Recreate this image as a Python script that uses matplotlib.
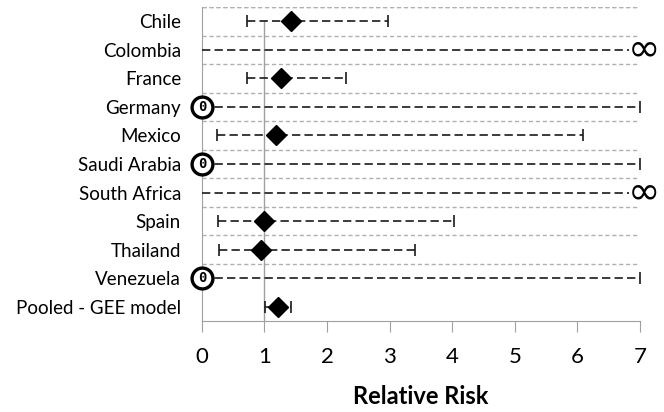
import numpy as np
import matplotlib.pyplot as plt

# forest plot of relative risk by country
countries = ['Chile', 'Colombia', 'France', 'Germany', 'Mexico', 'Saudi Arabia',
             'South Africa', 'Spain', 'Thailand', 'Venezuela', 'Pooled - GEE model']
rr = [1.42, np.inf, 1.26, 0, 1.18, 0, np.inf, 1.00, 0.94, 0, 1.21]
lower = [0.72, 0, 0.72, 0, 0.24, 0, 0, 0.26, 0.27, 0, 1.01]
upper = [2.97, np.inf, 2.30, 7, 6.09, 7, np.inf, 4.03, 3.40, 7, 1.42]
xticks = [0, 1, 2, 3, 4, 5, 6, 7]

plt.rcParams['font.family'] = ['Lato', 'DejaVu Sans']

fig = plt.figure(figsize=(6.64, 4.12), dpi=100)
ax = fig.add_axes([0.304, 0.221, 0.66, 0.762])

n = len(countries)
ypos = np.arange(n)[::-1]
xmax = 7

# row separators
for k in range(n - 1):
    ax.axhline(ypos[k] + 0.5, color='#b0b0b0', lw=1, ls=(0, (3, 2)), zorder=1)

# reference line at RR = 1
ax.plot([1, 1], [-0.5, ypos[0]], color='#a0a0a0', lw=1, zorder=2)

for y, p, lo, hi in zip(ypos, rr, lower, upper):
    hi_draw = 6.82 if np.isinf(hi) else hi
    ax.plot([lo, hi_draw], [y, y], color='#1a1a1a', lw=1.2, ls=(0, (5, 2.5)), zorder=3)
    if lo > 0:
        ax.plot([lo], [y], marker='|', ms=8, mew=1.2, color='#1a1a1a', zorder=3)
    if not np.isinf(hi):
        ax.plot([hi], [y], marker='|', ms=8, mew=1.2, color='#1a1a1a', zorder=3, clip_on=False)
    else:
        ax.text(7.07, y, '\u221e', ha='center', va='center', fontsize=28,
                family='DejaVu Sans', clip_on=False, zorder=5)
    if p == 0:
        ax.plot([0], [y], marker='o', ms=15, mfc='white', mec='black', mew=2.4,
                clip_on=False, zorder=5)
        ax.text(0, y, '0', ha='center', va='center', fontsize=10, fontweight='bold',
                family='DejaVu Sans Mono', zorder=6, clip_on=False)
    elif not np.isinf(p):
        ax.plot([p], [y], marker='D', ms=10, color='black', zorder=4)

ax.set_xlim(0, xmax)
ax.set_ylim(-0.5, n - 0.5)
ax.set_yticks(ypos)
ax.set_yticklabels(countries, fontsize=13.5)
ax.tick_params(axis='y', length=0, pad=15)
ax.set_xticks(xticks)
ax.set_xticklabels([str(t) for t in xticks], fontsize=16)
ax.tick_params(axis='x', length=8, color='#a0a0a0', direction='out', pad=11)
ax.set_xlabel('Relative Risk', fontsize=17, fontweight='bold', labelpad=13)

for side in ['top', 'right']:
    ax.spines[side].set_visible(False)
ax.spines['left'].set_color('#a0a0a0')
ax.spines['bottom'].set_color('#a0a0a0')
ax.axhline(n - 0.5, color='#b0b0b0', lw=1, ls=(0, (3, 2)), zorder=1)

fig.savefig('out.png', dpi=100)
